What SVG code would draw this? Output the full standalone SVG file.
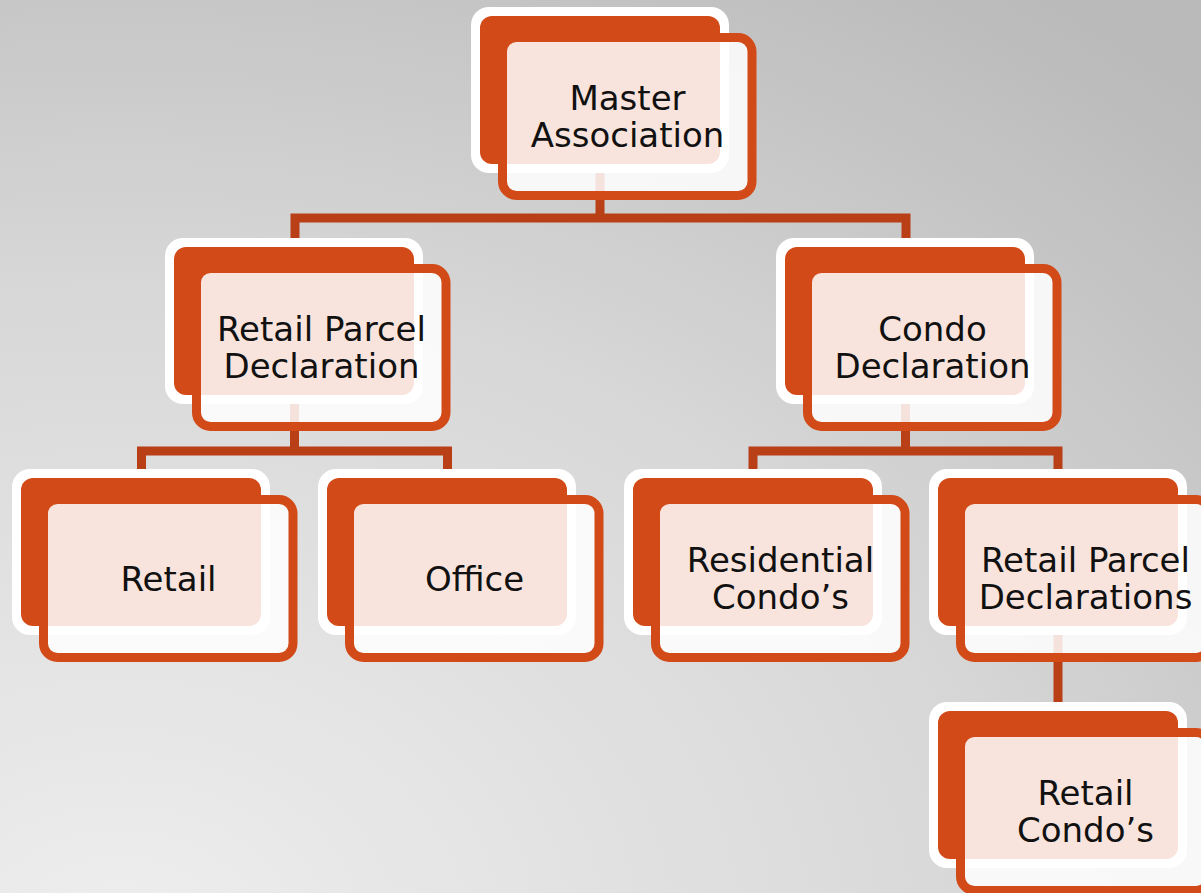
<svg xmlns="http://www.w3.org/2000/svg" width="1201" height="893" viewBox="0 0 1201 893">
<defs>
<radialGradient id="bg" cx="0.1" cy="1.05" r="1.3" gradientUnits="objectBoundingBox">
<stop offset="0" stop-color="#eeeeee"/>
<stop offset="0.55" stop-color="#d8d8d8"/>
<stop offset="1" stop-color="#bababa"/>
</radialGradient>
<style>
.bw{fill:#ffffff}
.bo{fill:#d24a18}
.fr{fill:#ffffff;fill-opacity:0.85;stroke:#d24a18;stroke-width:9}
.cn{fill:none;stroke:#b93f17;stroke-width:9;stroke-linejoin:miter}
.t{font-family:"DejaVu Sans","Liberation Sans",sans-serif;font-size:34px;fill:#111111;text-anchor:middle}
</style>
</defs>
<rect x="0" y="0" width="1201" height="893" fill="url(#bg)"/>
<g id="connectors">
<path class="cn" d="M600,160 V218"/>
<path class="cn" d="M295,246 V218 H906 V246"/>
<path class="cn" d="M294.5,400 V451"/>
<path class="cn" d="M141.5,478 V451 H447.5 V478"/>
<path class="cn" d="M905.5,400 V451"/>
<path class="cn" d="M753,478 V451 H1058 V478"/>
<path class="cn" d="M1058,630 V710"/>
</g>
<g id="master">
<rect class="bw" x="471" y="7" width="258" height="166" rx="18"/>
<rect class="bo" x="480" y="16" width="240" height="148" rx="12"/>
<rect class="fr" x="502.5" y="37.5" width="249.5" height="158" rx="14"/>
<text class="t" x="627.5" y="110">Master</text>
<text class="t" x="627.5" y="147">Association</text>
</g>
<g id="retail-parcel-declaration">
<rect class="bw" x="165" y="238" width="258" height="166" rx="18"/>
<rect class="bo" x="174" y="247" width="240" height="148" rx="12"/>
<rect class="fr" x="196.5" y="268.5" width="249.5" height="158" rx="14"/>
<text class="t" x="321.5" y="341">Retail Parcel</text>
<text class="t" x="321.5" y="378">Declaration</text>
</g>
<g id="condo-declaration">
<rect class="bw" x="776" y="238" width="258" height="166" rx="18"/>
<rect class="bo" x="785" y="247" width="240" height="148" rx="12"/>
<rect class="fr" x="807.5" y="268.5" width="249.5" height="158" rx="14"/>
<text class="t" x="932.5" y="341">Condo</text>
<text class="t" x="932.5" y="378">Declaration</text>
</g>
<g id="retail">
<rect class="bw" x="12" y="469" width="258" height="166" rx="18"/>
<rect class="bo" x="21" y="478" width="240" height="148" rx="12"/>
<rect class="fr" x="43.5" y="499.5" width="249.5" height="158" rx="14"/>
<text class="t" x="168.5" y="591">Retail</text>
</g>
<g id="office">
<rect class="bw" x="318" y="469" width="258" height="166" rx="18"/>
<rect class="bo" x="327" y="478" width="240" height="148" rx="12"/>
<rect class="fr" x="349.5" y="499.5" width="249.5" height="158" rx="14"/>
<text class="t" x="474.5" y="591">Office</text>
</g>
<g id="residential-condos">
<rect class="bw" x="624" y="469" width="258" height="166" rx="18"/>
<rect class="bo" x="633" y="478" width="240" height="148" rx="12"/>
<rect class="fr" x="655.5" y="499.5" width="249.5" height="158" rx="14"/>
<text class="t" x="780.5" y="572">Residential</text>
<text class="t" x="780.5" y="609">Condo’s</text>
</g>
<g id="retail-parcel-declarations">
<rect class="bw" x="929" y="469" width="258" height="166" rx="18"/>
<rect class="bo" x="938" y="478" width="240" height="148" rx="12"/>
<rect class="fr" x="960.5" y="499.5" width="249.5" height="158" rx="14"/>
<text class="t" x="1085.5" y="572">Retail Parcel</text>
<text class="t" x="1085.5" y="609">Declarations</text>
</g>
<g id="retail-condos">
<rect class="bw" x="929" y="702" width="258" height="166" rx="18"/>
<rect class="bo" x="938" y="711" width="240" height="148" rx="12"/>
<rect class="fr" x="960.5" y="732.5" width="249.5" height="158" rx="14"/>
<text class="t" x="1085.5" y="805">Retail</text>
<text class="t" x="1085.5" y="842">Condo’s</text>
</g>
</svg>
